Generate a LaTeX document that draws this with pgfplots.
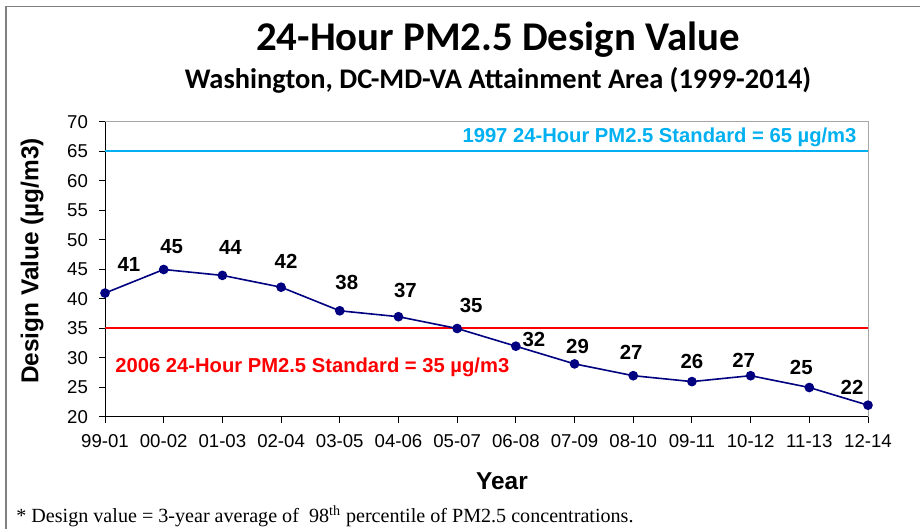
\documentclass[border=0pt]{standalone}
\usepackage{pgfplots}
\pgfplotsset{compat=1.18}
\usepackage{pgfplotstable}
\usepackage{fontspec}
\setmainfont{Liberation Sans}
\newfontfamily\calibri{Carlito}
\newfontfamily\timesf{Liberation Serif}
\definecolor{navyline}{RGB}{0,0,128}
\definecolor{stdcyan}{RGB}{0,176,240}
\definecolor{stdred}{RGB}{255,0,0}
\definecolor{framegray}{RGB}{128,128,128}
\pgfplotstableread{
x y dx dy
0 41 12 14.5
1 45 4 11.5
2 44 4 14
3 42 2.5 13
4 38 3.5 14
5 37 3.5 13
6 35 7 11.5
7 32 9 3.5
8 29 1.5 8.5
9 27 -1 11.5
10 26 0 10
11 27 -3.5 7.5
12 25 -4 10
13 22 -8 9
}\dvtable
\begin{document}
\begin{tikzpicture}
\begin{axis}[
  at={(52.5pt,56pt)}, anchor=south west,
  width=381.5pt, height=147.5pt, scale only axis,
  xmin=0, xmax=13, ymin=20, ymax=70,
  xtick={0,...,13},
  xticklabels={99-01,00-02,01-03,02-04,03-05,04-06,05-07,06-08,07-09,08-10,09-11,10-12,11-13,12-14},
  ytick={20,25,...,70},
  axis x line*=bottom, axis y line*=left,
  axis line style={black, line width=0.5pt},
  tick align=outside, major tick length=3pt,
  tick style={black, line width=0.5pt},
  ticklabel style={font=\fontsize{9.3}{10}\selectfont},
  /pgf/number format/assume math mode=true,
  xticklabel style={yshift=-2pt},
  yticklabel style={xshift=-2pt},
  clip=false,
]
\draw[framegray!70, line width=0.5pt] (rel axis cs:0,1) -- (rel axis cs:1,1) -- (rel axis cs:1,0);
\addplot[stdcyan, line width=1pt, forget plot] coordinates {(0,65) (13,65)};
\addplot[stdred, line width=1pt, forget plot] coordinates {(0,35) (13,35)};
\addplot[navyline, line width=0.8pt, mark=*, mark size=2pt,
  mark options={fill=navyline, draw=navyline},
  nodes near coords, point meta=explicit,
  visualization depends on={\thisrow{dx} \as \dx},
  visualization depends on={\thisrow{dy} \as \dy},
  every node near coord/.append style={anchor=center, black, font=\fontsize{10.2}{11}\selectfont\bfseries, xshift={\dx pt}, yshift={\dy pt}, inner sep=0pt},
] table[x=x, y=y, meta=y] {\dvtable};
\node[anchor=east, text=stdcyan, font=\fontsize{10.1}{11}\selectfont\bfseries, inner sep=0pt] at (axis cs:12.81,67.46) {1997 24-Hour PM2.5 Standard = 65 µg/m3};
\node[anchor=west, text=stdred, font=\fontsize{10.1}{11}\selectfont\bfseries, inner sep=0pt] at (axis cs:0.17,28.47) {2006 24-Hour PM2.5 Standard = 35 µg/m3};
\end{axis}
\node[font=\calibri\fontsize{20.4}{22}\selectfont\bfseries] at (249pt,244.5pt) {24-Hour PM2.5 Design Value};
\node[font=\calibri\fontsize{14.2}{16}\selectfont\bfseries] at (249pt,224.5pt) {Washington, DC-MD-VA Attainment Area (1999-2014)};
\node[rotate=90, font=\fontsize{12.2}{13}\selectfont\bfseries] at (16pt,134pt) {Design Value (µg/m3)};
\node[font=\fontsize{12.2}{13}\selectfont\bfseries] at (251pt,24pt) {Year};
\node[anchor=west, inner sep=0pt, font=\timesf\fontsize{10.05}{11}\selectfont] at (8pt,6.5pt) {* Design value = 3-year average of \ 98\textsuperscript{th} percentile of PM2.5 concentrations.};
\draw[framegray, line width=0.75pt] (3pt,0pt) -- (3pt,261.25pt) -- (460pt,261.25pt);
\pgfresetboundingbox
\path[use as bounding box] (0,0) rectangle (460pt,264.5pt);
\end{tikzpicture}
\end{document}
